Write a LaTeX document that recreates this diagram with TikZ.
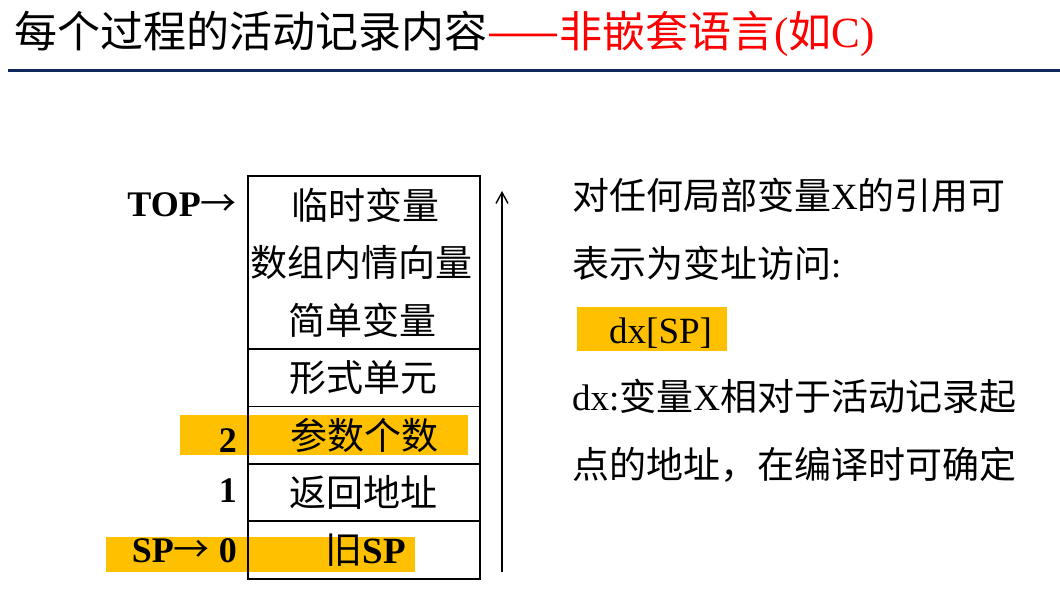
\documentclass[tikz,border=0pt]{standalone}
\usepackage{fontspec}
\setmainfont{Liberation Serif}
\newfontfamily\cjk{Noto Sans CJK SC}
\usetikzlibrary{arrows.meta}
\definecolor{hl}{RGB}{255,192,0}
\definecolor{rulenavy}{RGB}{14,40,94}
\definecolor{titlered}{RGB}{255,0,0}

\begin{document}
\begin{tikzpicture}[x=1pt,y=-1pt,
  cell/.style={draw=black,line width=1.8pt},
  hlbox/.style={fill=hl,draw=none},
  celltext/.style={font=\fontsize{37}{40}\selectfont\cjk,inner sep=0pt},
  idx/.style={font=\fontsize{36}{40}\selectfont\bfseries,inner sep=0pt,anchor=base east},
  body/.style={font=\fontsize{37}{40}\selectfont,inner sep=0pt,anchor=base west}]

\useasboundingbox (0,0) rectangle (1060,602);

% heading and rule
\node[anchor=base west,inner sep=0pt,font=\fontsize{43}{46}\selectfont] (title) at (14,48)
  {{\cjk 每个过程的活动记录内容}\textcolor{titlered}{{\cjk ——非嵌套语言}({\cjk 如}C)}};
\draw[rulenavy,line width=3pt] (8,71) -- (1060,71);

% highlight bars
\fill[hlbox] (180,415) rectangle (468,455);
\fill[hlbox] (106,537) rectangle (415,572);
\fill[hlbox] (577,307) rectangle (727,351);

% activation record cells
\draw[cell] (248,176) rectangle (480,349);
\draw[cell] (248,349) rectangle (480,406.5);
\draw[cell] (248,406.5) rectangle (480,464);
\draw[cell] (248,464) rectangle (480,521);
\draw[cell] (248,521) rectangle (480,579);

\node[celltext] (c1) at (365,205) {临时变量};
\node[celltext] (c2) at (361,262.5) {数组内情向量};
\node[celltext] (c3) at (362,320) {简单变量};
\node[celltext] (c4) at (363,377.5) {形式单元};
\node[celltext] (c5) at (364,435) {参数个数};
\node[celltext] (c6) at (363,492) {返回地址};
\node[anchor=base,inner sep=0pt,font=\fontsize{37}{40}\selectfont\bfseries] (c7) at (366,563) {{\cjk\mdseries 旧}SP};

% offsets and pointers
\node[idx] (top) at (237,216) {TOP{\cjk\mdseries →}};
\node[idx] (i2) at (237,452) {2};
\node[idx] (i1) at (237,502) {1};
\node[idx] (sp) at (237,562) {SP{\cjk\mdseries →} 0};

% growth direction
\coordinate (gbot) at (502,572);
\coordinate (gtop) at (502,191);
\draw[line width=1.6pt,-{Straight Barb[length=11pt,width=12pt,line width=1.4pt]}] (gbot) -- (gtop);

% explanation
\node[body] (r1) at (572,209) {{\cjk 对任何局部变量}X{\cjk 的引用可}};
\node[body] (r2) at (572,277) {{\cjk 表示为变址访问}:};
\node[body] (r3) at (609,343) {dx[SP]};
\node[body] (r4) at (572,410) {dx:{\cjk 变量}X{\cjk 相对于活动记录起}};
\node[body] (r5) at (572,478) {{\cjk 点的地址，在编译时可确定}};
\end{tikzpicture}
\end{document}
